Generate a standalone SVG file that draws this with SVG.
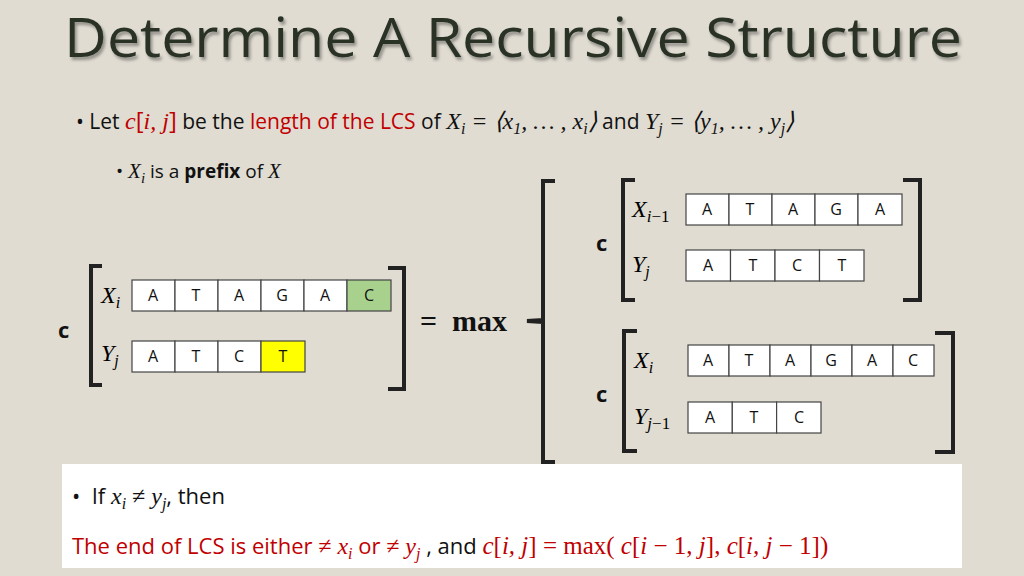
<svg xmlns="http://www.w3.org/2000/svg" width="1024" height="576" viewBox="0 0 1024 576">
<defs>
<filter id="sh" x="-5%" y="-20%" width="110%" height="150%"><feDropShadow dx="2" dy="3" stdDeviation="1.5" flood-color="#000" flood-opacity="0.35"/></filter>
</defs>
<style>
.t{font-family:"Comic Sans MS","Open Sans",sans-serif;}
.m{font-family:"Liberation Serif",serif;font-style:italic;}
.cell{fill:#fff;stroke:#444;stroke-width:1.2}
.lt{font-family:"Comic Sans MS","Open Sans",sans-serif;font-size:16px;text-anchor:middle;fill:#111}
.br{fill:none;stroke:#222;stroke-width:4}
.c{font-family:"Open Sans",sans-serif;font-weight:bold;font-size:22px;fill:#111}
.red{fill:#c00000}
</style>
<rect width="1024" height="576" fill="#e0dcd2"/>
<text x="64" y="57" textLength="898" lengthAdjust="spacingAndGlyphs" class="t" font-size="54" fill="#2a3328" filter="url(#sh)">Determine A Recursive Structure</text>
<text x="76" y="129" class="t" font-size="21" fill="#111">• Let <tspan class="m red" font-size="24">c</tspan><tspan class="red" font-size="24">[</tspan><tspan class="m red" font-size="24">i, j</tspan><tspan class="red" font-size="24">]</tspan> be the <tspan class="red">length of the LCS</tspan> of <tspan class="m" font-size="24">X<tspan font-size="16" dy="5">i</tspan><tspan dy="-5"> = ⟨x<tspan font-size="16" dy="5">1</tspan><tspan dy="-5">, … , x</tspan><tspan font-size="16" dy="5">i</tspan><tspan dy="-5">⟩</tspan></tspan></tspan> and <tspan class="m" font-size="24">Y<tspan font-size="16" dy="5">j</tspan><tspan dy="-5"> = ⟨y<tspan font-size="16" dy="5">1</tspan><tspan dy="-5">, … , y</tspan><tspan font-size="16" dy="5">j</tspan><tspan dy="-5">⟩</tspan></tspan></tspan></text>
<text x="116" y="178" class="t" font-size="19" fill="#111">• <tspan class="m" font-size="21">X<tspan font-size="15" dy="5">i</tspan></tspan><tspan dy="-5"> is a </tspan><tspan font-weight="bold">prefix</tspan> of <tspan class="m" font-size="21">X</tspan></text>

<g id="left">
<text x="58" y="338" class="c">c</text>
<path class="br" d="M102,266 H91 V385 H102"/>
<path class="br" d="M388,268 H404 V389 H388"/>
<text x="101" y="303" class="m" font-size="24">X<tspan font-size="16" dy="5">i</tspan></text>
<text x="101" y="361" class="m" font-size="24">Y<tspan font-size="16" dy="5">j</tspan></text>
<rect class="cell" x="132" y="280" width="43" height="31"/><rect class="cell" x="175" y="280" width="43" height="31"/><rect class="cell" x="218" y="280" width="43" height="31"/><rect class="cell" x="261" y="280" width="43" height="31"/><rect class="cell" x="304" y="280" width="43" height="31"/><rect class="cell" x="347" y="280" width="44" height="31" style="fill:#a9d18e"/>
<text class="lt" x="153" y="301">A</text><text class="lt" x="196" y="301">T</text><text class="lt" x="239" y="301">A</text><text class="lt" x="282" y="301">G</text><text class="lt" x="325" y="301">A</text><text class="lt" x="369" y="301">C</text>
<rect class="cell" x="132" y="341" width="43" height="31"/><rect class="cell" x="175" y="341" width="43" height="31"/><rect class="cell" x="218" y="341" width="43" height="31"/><rect class="cell" x="261" y="341" width="44" height="31" style="fill:#ffff00"/>
<text class="lt" x="153" y="362">A</text><text class="lt" x="196" y="362">T</text><text class="lt" x="239" y="362">C</text><text class="lt" x="283" y="362">T</text>
</g>
<text x="420" y="331" font-family="Liberation Serif,serif" font-size="30" font-weight="bold" fill="#111" xml:space="preserve">=  max</text>
<path class="br" d="M555,181 H543 V320 L527,321 L543,322 V462 H555" stroke-width="3.5"/>

<g id="top">
<text x="596" y="251" class="c">c</text>
<path class="br" d="M635,180 H623 V300 H635"/>
<path class="br" d="M903,180 H920 V300 H903"/>
<text x="632" y="217" class="m" font-size="24">X<tspan font-size="17" dy="5">i</tspan><tspan font-size="17" font-style="normal">−1</tspan></text>
<text x="632" y="272" class="m" font-size="24">Y<tspan font-size="16" dy="5">j</tspan></text>
<rect class="cell" x="686" y="194" width="43" height="31"/><rect class="cell" x="729" y="194" width="43" height="31"/><rect class="cell" x="772" y="194" width="43" height="31"/><rect class="cell" x="815" y="194" width="43" height="31"/><rect class="cell" x="858" y="194" width="44" height="31"/>
<text class="lt" x="707" y="215">A</text><text class="lt" x="750" y="215">T</text><text class="lt" x="793" y="215">A</text><text class="lt" x="836" y="215">G</text><text class="lt" x="880" y="215">A</text>
<rect class="cell" x="686" y="250" width="44.5" height="31"/><rect class="cell" x="730.5" y="250" width="44.5" height="31"/><rect class="cell" x="775" y="250" width="44.5" height="31"/><rect class="cell" x="819.5" y="250" width="44.5" height="31"/>
<text class="lt" x="708" y="271">A</text><text class="lt" x="753" y="271">T</text><text class="lt" x="797" y="271">C</text><text class="lt" x="842" y="271">T</text>
</g>

<g id="bottom">
<text x="596" y="402" class="c">c</text>
<path class="br" d="M637,331 H624 V451 H637"/>
<path class="br" d="M935,333 H953 V452 H935"/>
<text x="634" y="368" class="m" font-size="24">X<tspan font-size="16" dy="5">i</tspan></text>
<text x="634" y="424" class="m" font-size="24">Y<tspan font-size="17" dy="5">j</tspan><tspan font-size="17" font-style="normal">−1</tspan></text>
<rect class="cell" x="688" y="345" width="41" height="31"/><rect class="cell" x="729" y="345" width="41" height="31"/><rect class="cell" x="770" y="345" width="41" height="31"/><rect class="cell" x="811" y="345" width="41" height="31"/><rect class="cell" x="852" y="345" width="41" height="31"/><rect class="cell" x="893" y="345" width="41" height="31"/>
<text class="lt" x="708" y="366">A</text><text class="lt" x="749" y="366">T</text><text class="lt" x="790" y="366">A</text><text class="lt" x="831" y="366">G</text><text class="lt" x="872" y="366">A</text><text class="lt" x="913" y="366">C</text>
<rect class="cell" x="688" y="402" width="44.3" height="31"/><rect class="cell" x="732.3" y="402" width="44.3" height="31"/><rect class="cell" x="776.6" y="402" width="44.4" height="31"/>
<text class="lt" x="710" y="423">A</text><text class="lt" x="754" y="423">T</text><text class="lt" x="799" y="423">C</text>
</g>

<rect x="62" y="464" width="900" height="104" fill="#fff"/>
<text x="72" y="504" class="t" font-size="22" fill="#111" xml:space="preserve">•  If <tspan class="m" font-size="24">x<tspan font-size="16" dy="5">i</tspan><tspan dy="-5"> ≠ y</tspan><tspan font-size="16" dy="5">j</tspan></tspan><tspan dy="-5">, then</tspan></text>
<text x="72" y="554" class="t" font-size="22" fill="#c00000">The end of LCS is either <tspan class="m" font-size="24">≠ x<tspan font-size="16" dy="5">i</tspan></tspan><tspan dy="-5"> or </tspan><tspan class="m" font-size="24">≠ y<tspan font-size="16" dy="5">j</tspan></tspan><tspan dy="-5" fill="#111"> , and </tspan><tspan font-family="Liberation Serif,serif" font-size="25"><tspan class="m">c</tspan>[<tspan class="m">i, j</tspan>] = max( <tspan class="m">c</tspan>[<tspan class="m">i</tspan> − 1, <tspan class="m">j</tspan>], <tspan class="m">c</tspan>[<tspan class="m">i, j</tspan> − 1])</tspan></text>
</svg>
